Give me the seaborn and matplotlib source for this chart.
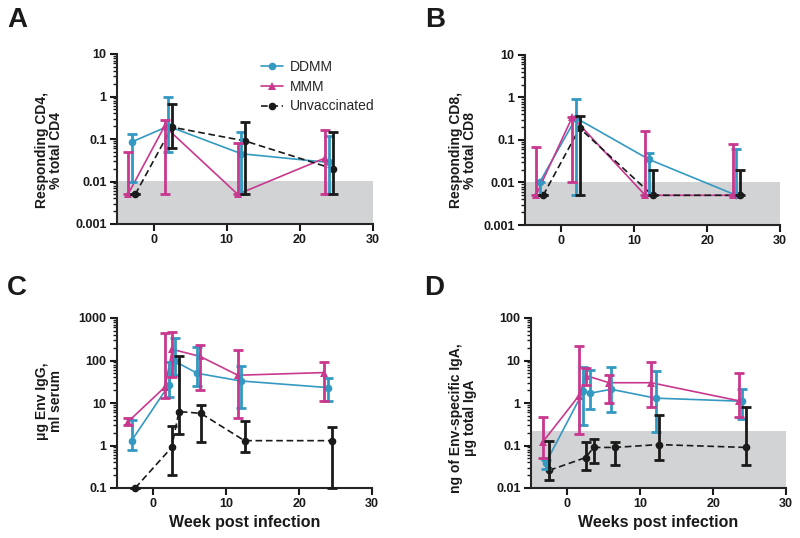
import matplotlib
matplotlib.use("Agg")
import matplotlib.pyplot as plt
import matplotlib.ticker as mticker
import numpy as np
import pandas as pd
import seaborn as sns

# ---------------- data ----------------
groups = ["DDMM", "MMM", "Unvaccinated"]

# Panel A: responding CD4 (% total CD4)
a_x_ddmm = [-3, 2, 12, 24]
a_y_ddmm = [0.085, 0.2, 0.045, 0.028]
a_lo_ddmm = [0.01, 0.05, 0.005, 0.005]
a_hi_ddmm = [0.13, 1.0, 0.15, 0.12]
a_x_mmm = [-3.5, 1.5, 11.5, 23.5]
a_y_mmm = [0.005, 0.2, 0.005, 0.036]
a_lo_mmm = [0.005, 0.005, 0.005, 0.005]
a_hi_mmm = [0.05, 0.28, 0.08, 0.16]
a_x_unv = [-2.5, 2.5, 12.5, 24.5]
a_y_unv = [0.005, 0.19, 0.09, 0.02]
a_lo_unv = [0.005, 0.06, 0.005, 0.005]
a_hi_unv = [0.005, 0.65, 0.25, 0.15]

# Panel B: responding CD8 (% total CD8)
b_x_ddmm = [-3, 2, 12, 24]
b_y_ddmm = [0.01, 0.33, 0.035, 0.005]
b_lo_ddmm = [0.005, 0.005, 0.005, 0.005]
b_hi_ddmm = [0.01, 0.9, 0.05, 0.06]
b_x_mmm = [-3.5, 1.5, 11.5, 23.5]
b_y_mmm = [0.005, 0.35, 0.005, 0.005]
b_lo_mmm = [0.005, 0.01, 0.005, 0.005]
b_hi_mmm = [0.07, 0.35, 0.16, 0.08]
b_x_unv = [-2.5, 2.5, 12.5, 24.5]
b_y_unv = [0.005, 0.19, 0.005, 0.005]
b_lo_unv = [0.005, 0.005, 0.005, 0.005]
b_hi_unv = [0.005, 0.36, 0.02, 0.02]

# Panel C: ug Env IgG / ml serum
c_x_ddmm = [-3, 2.1, 2.9, 6, 12, 24]
c_y_ddmm = [1.3, 26, 97, 50, 33, 23]
c_lo_ddmm = [0.8, 14, 45, 25, 7.5, 11]
c_hi_ddmm = [4.0, 94, 330, 210, 74, 38]
c_x_mmm = [-3.5, 1.6, 2.6, 6.4, 11.6, 23.4]
c_y_mmm = [3.6, 24, 183, 125, 45, 52]
c_lo_mmm = [3.0, 13, 40, 20, 4.5, 11]
c_hi_mmm = [4.4, 450, 475, 235, 175, 90]
c_x_unv = [-2.5, 2.5, 3.5, 6.5, 12.5, 24.5]
c_y_unv = [0.1, 0.9, 6.3, 5.7, 1.3, 1.3]
c_lo_unv = [0.1, 0.2, 1.9, 1.2, 0.7, 0.1]
c_hi_unv = [0.1, 2.9, 130, 9.0, 3.8, 2.7]

# Panel D: ng Env-specific IgA / ug total IgA
d_x_ddmm = [-3, 2.2, 3.1, 6, 12.1, 24]
d_y_ddmm = [0.038, 1.9, 1.7, 2.1, 1.3, 1.1]
d_lo_ddmm = [0.028, 0.3, 0.74, 0.62, 0.21, 0.41]
d_hi_ddmm = [0.045, 6.9, 6.0, 7.2, 5.8, 2.1]
d_x_mmm = [-3.4, 1.6, 2.6, 5.7, 11.5, 23.5]
d_y_mmm = [0.12, 1.5, 4.4, 3.0, 3.0, 1.13]
d_lo_mmm = [0.05, 0.19, 2.6, 1.0, 0.81, 0.46]
d_hi_mmm = [0.46, 22, 6.6, 4.6, 9.1, 5.0]
d_x_unv = [-2.5, 2.5, 3.6, 6.5, 12.5, 24.5]
d_y_unv = [0.026, 0.052, 0.09, 0.09, 0.105, 0.09]
d_lo_unv = [0.0155, 0.026, 0.038, 0.035, 0.046, 0.035]
d_hi_unv = [0.13, 0.118, 0.14, 0.118, 0.52, 0.79]

detection_ab = 0.0105
detection_d = 0.22

ylabels = ["Responding CD4,\n% total CD4", "Responding CD8,\n% total CD8",
           "\u03bcg Env IgG,\nml serum", "ng of Env-specific IgA,\n\u03bcg total IgA"]
xlabels = [None, None, "Week post infection", "Weeks post infection"]
letters = ["A", "B", "C", "D"]
x_ticks = [0, 10, 20, 30]

# ---------------- style ----------------
sns.set_theme(style="ticks")
plt.rcParams["font.family"] = ["Liberation Sans", "DejaVu Sans"]
plt.rcParams["axes.linewidth"] = 1.5

colors = {"DDMM": "#3399C2", "MMM": "#C8388F", "Unvaccinated": "#1a1a1a"}
markers = {"DDMM": "o", "MMM": "^", "Unvaccinated": "o"}
dashes = {"DDMM": "", "MMM": "", "Unvaccinated": (4, 2.2)}


def make_df(xs, ys):
    rows = []
    for g, x, y in zip(groups, xs, ys):
        for xi, yi in zip(x, y):
            rows.append({"week": xi, "value": yi, "group": g})
    return pd.DataFrame(rows)


panels = [
    ([a_x_ddmm, a_x_mmm, a_x_unv], [a_y_ddmm, a_y_mmm, a_y_unv],
     [a_lo_ddmm, a_lo_mmm, a_lo_unv], [a_hi_ddmm, a_hi_mmm, a_hi_unv],
     (0.001, 10), [0.001, 0.01, 0.1, 1, 10], ["0.001", "0.01", "0.1", "1", "10"], detection_ab),
    ([b_x_ddmm, b_x_mmm, b_x_unv], [b_y_ddmm, b_y_mmm, b_y_unv],
     [b_lo_ddmm, b_lo_mmm, b_lo_unv], [b_hi_ddmm, b_hi_mmm, b_hi_unv],
     (0.001, 10), [0.001, 0.01, 0.1, 1, 10], ["0.001", "0.01", "0.1", "1", "10"], detection_ab),
    ([c_x_ddmm, c_x_mmm, c_x_unv], [c_y_ddmm, c_y_mmm, c_y_unv],
     [c_lo_ddmm, c_lo_mmm, c_lo_unv], [c_hi_ddmm, c_hi_mmm, c_hi_unv],
     (0.1, 1000), [0.1, 1, 10, 100, 1000], ["0.1", "1", "10", "100", "1000"], None),
    ([d_x_ddmm, d_x_mmm, d_x_unv], [d_y_ddmm, d_y_mmm, d_y_unv],
     [d_lo_ddmm, d_lo_mmm, d_lo_unv], [d_hi_ddmm, d_hi_mmm, d_hi_unv],
     (0.01, 100), [0.01, 0.1, 1, 10, 100], ["0.01", "0.1", "1", "10", "100"], detection_d),
]

# axes rectangles (figure fraction): left, bottom, width, height
rects = [
    (117 / 800, 1 - 224 / 538, 256 / 800, 170 / 538),
    (525 / 800, 1 - 225 / 538, 255 / 800, 170 / 538),
    (117 / 800, 1 - 488 / 538, 255 / 800, 170 / 538),
    (531 / 800, 1 - 488 / 538, 255 / 800, 170 / 538),
]
label_coords = [(-0.21, 0.435), (-0.19, 0.44), (-0.21, 0.51), (-0.21, 0.41)]
letter_pos = [(7, 7), (425, 7), (7, 275), (424, 275)]

fig = plt.figure(figsize=(8.0, 5.38), dpi=100)

for i, (xs, ys, los, his, ylim, yt, ytl, lod) in enumerate(panels):
    ax = fig.add_axes(rects[i])
    df = make_df(xs, ys)
    sns.lineplot(data=df, x="week", y="value", hue="group", style="group",
                 palette=colors, markers=markers, dashes=dashes,
                 markersize=5.5, markeredgewidth=0, linewidth=1.2,
                 legend=(i == 0), ax=ax, zorder=2, clip_on=False)
    for g, x, y, lo, hi in zip(groups, xs, ys, los, his):
        y = np.array(y)
        err = [y - np.array(lo), np.array(hi) - y]
        ax.errorbar(x, y, yerr=err, fmt="none", ecolor=colors[g],
                    elinewidth=2.0, capsize=3.6, capthick=2.0, zorder=3,
                    clip_on=False)
    ax.set_yscale("log")
    ax.set_ylim(*ylim)
    ax.set_xlim(-5, 30)
    if lod is not None:
        ax.axhspan(ylim[0], lod, color="#D2D3D5", zorder=0, linewidth=0)
    ax.yaxis.set_major_locator(mticker.FixedLocator(yt))
    ax.yaxis.set_major_formatter(mticker.FixedFormatter(ytl))
    ax.yaxis.set_minor_locator(mticker.LogLocator(base=10, subs=np.arange(2, 10)))
    ax.yaxis.set_minor_formatter(mticker.NullFormatter())
    ax.set_xticks(x_ticks)
    ax.set_xticklabels([str(t) for t in x_ticks])
    ax.tick_params(axis="both", which="major", length=5, width=1.5,
                   labelsize=9, pad=2.5, color="#1a1a1a")
    ax.tick_params(axis="y", which="minor", length=3, width=1.0, color="#1a1a1a")
    for lab in ax.get_xticklabels() + ax.get_yticklabels():
        lab.set_fontweight("bold")
        lab.set_color("#1a1a1a")
    sns.despine(ax=ax)
    ax.set_ylabel(ylabels[i], fontsize=10, fontweight="bold", color="#1a1a1a",
                  linespacing=1.0)
    ax.yaxis.set_label_coords(*label_coords[i])
    if xlabels[i]:
        ax.set_xlabel(xlabels[i], fontsize=11.5, fontweight="bold",
                      color="#1a1a1a", labelpad=3)
    else:
        ax.set_xlabel("")
    if i == 0:
        sns.move_legend(ax, "upper left", bbox_to_anchor=(0.53, 1.015),
                        frameon=False, title=None, fontsize=10,
                        handlelength=1.6, labelspacing=0.42,
                        handletextpad=0.45, borderaxespad=0.2)
    lx, ly = letter_pos[i]
    fig.text(lx / 800, 1 - ly / 538, letters[i], fontsize=20,
             fontweight="bold", ha="left", va="top", color="#1a1a1a")

fig.savefig("out.png", dpi=100)
